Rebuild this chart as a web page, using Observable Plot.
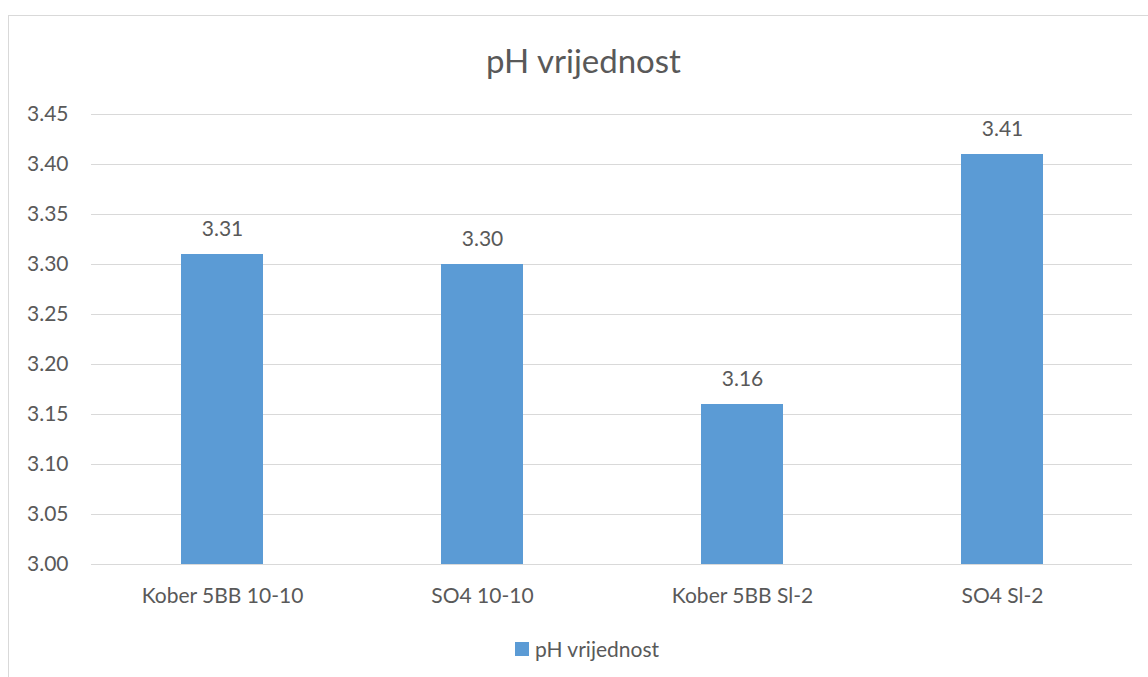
<!DOCTYPE html>
<html><head><meta charset="utf-8">
<script src="https://cdn.jsdelivr.net/npm/d3@7"></script>
<script src="https://cdn.jsdelivr.net/npm/@observablehq/plot@0.6"></script>
<style>
body{margin:0;background:#fff;font-family:Lato,"Open Sans",sans-serif;}
#wrap{position:relative;width:1148px;height:677px;overflow:hidden;background:#fff}
#frame{position:absolute;left:8px;top:15px;width:1170px;height:700px;border:1px solid #d9d9d9;box-sizing:border-box}
#title{position:absolute;left:12px;width:1143px;top:44px;text-align:center;font-size:33px;color:#595959;line-height:1}
#legend{position:absolute;left:515px;top:638px;font-size:21px;color:#595959;display:flex;align-items:center;line-height:1}
#legend span.sw{display:inline-block;width:14px;height:14px;background:#5b9bd5;margin-right:6px}
#chart{position:absolute;left:0;top:0}
</style></head>
<body><div id="wrap"><div id="frame"></div><div id="chart"></div>
<div id="title">pH vrijednost</div>
<div id="legend"><span class="sw"></span><span>pH vrijednost</span></div></div>
<script>
const categories = ["Kober 5BB 10-10", "SO4 10-10", "Kober 5BB Sl-2", "SO4 Sl-2"];
const values = [3.31, 3.30, 3.16, 3.41];
const yTicks = [3.00, 3.05, 3.10, 3.15, 3.20, 3.25, 3.30, 3.35, 3.40, 3.45];
const seriesName = "pH vrijednost";

const data = categories.map((c, i) => ({cat: c, v: values[i]}));
const txt = "#595959";
const chart = Plot.plot({
  width: 1148, height: 677,
  marginLeft: 91, marginRight: 16, marginTop: 114, marginBottom: 113,
  style: {fontFamily: "Lato, 'Open Sans', sans-serif", color: txt, background: "transparent"},
  x: {domain: categories, paddingInner: 0.685, paddingOuter: 0.3425},
  y: {domain: [3.0, 3.45]},
  marks: [
    Plot.gridY(yTicks, {stroke: "#d9d9d9", strokeOpacity: 1, strokeWidth: 1}),
    Plot.barY(data, {x: "cat", y1: 3.0, y2: "v", fill: "#5b9bd5"}),
    Plot.text(data, {x: "cat", y: "v", text: d => d.v.toFixed(2), dy: -25, fontSize: 21, fill: txt}),
    Plot.axisY(yTicks, {tickSize: 0, tickPadding: 23, fontSize: 21, tickFormat: d => d.toFixed(2), label: null, fill: txt}),
    Plot.axisX({tickSize: 0, tickPadding: 24, fontSize: 21, label: null, fill: txt})
  ]
});
document.getElementById("chart").appendChild(chart);
</script></body></html>
